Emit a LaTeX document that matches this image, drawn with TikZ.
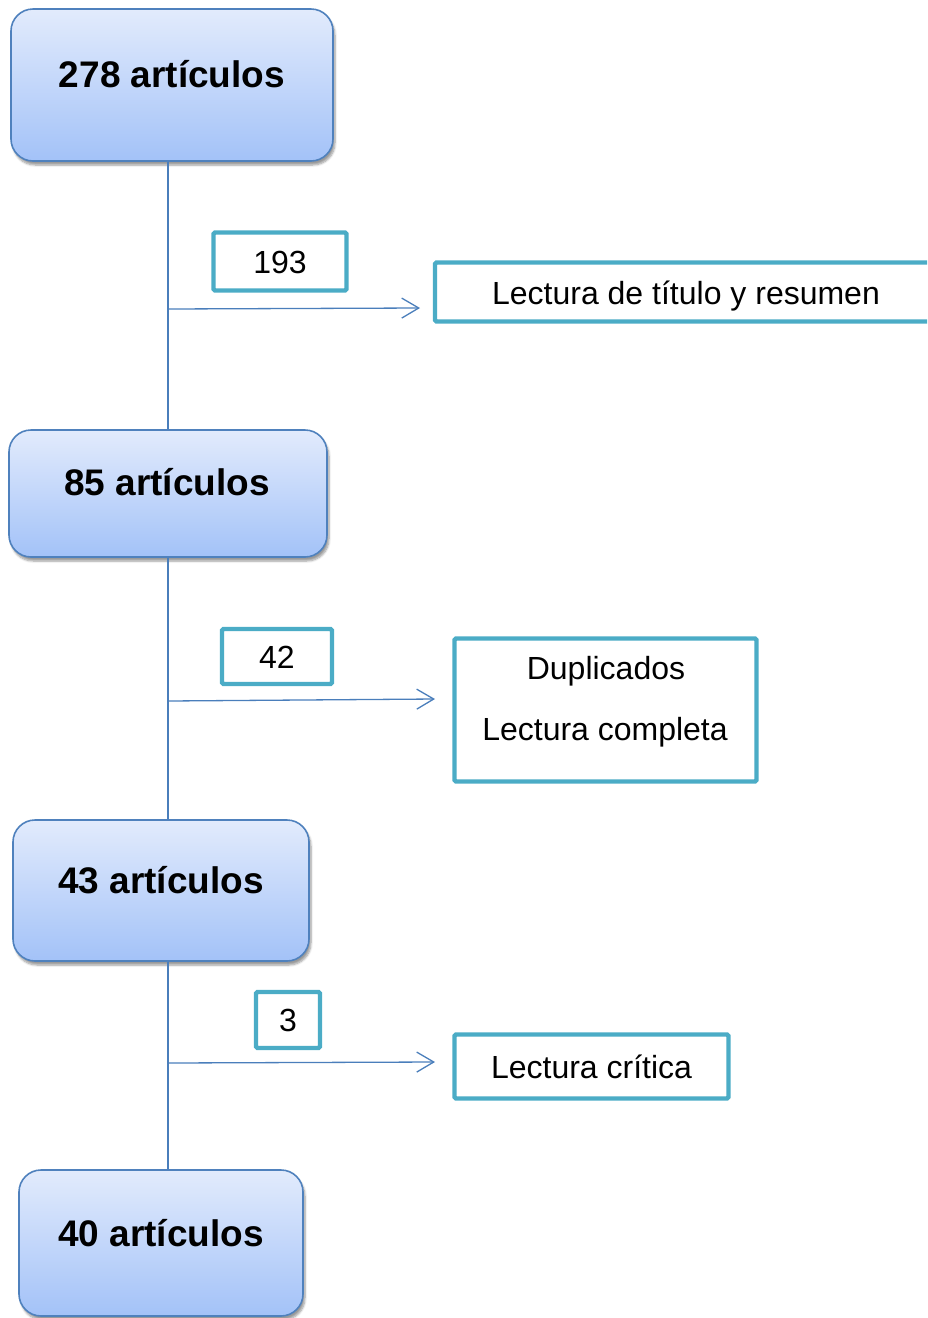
\documentclass[tikz,border=0pt]{standalone}
\usepackage{fontspec}
\setmainfont{Liberation Sans}
\usetikzlibrary{arrows.meta,shadows.blur}
\definecolor{bluebord}{HTML}{4F81BD}
\definecolor{gtop}{HTML}{E2EBFC}
\definecolor{gbot}{HTML}{A3C2F8}
\definecolor{teal}{HTML}{4BACC6}
\definecolor{linec}{HTML}{4A7EBB}
\tikzset{
  bigbox/.style={draw=bluebord, line width=1.6pt, rounded corners=22pt, top color=gtop, bottom color=gbot,
    blur shadow={shadow xshift=2pt, shadow yshift=-4pt, shadow blur steps=6, shadow blur extra rounding=2pt, shadow opacity=40}},
  bigtext/.style={font=\fontsize{37}{44}\selectfont\bfseries, anchor=base, inner sep=0pt},
  tealbox/.style={draw=teal, line width=4.3pt, rounded corners=1.5pt, fill=white, inner sep=0pt,
    font=\fontsize{32}{38}\selectfont, text height=23pt, text depth=0pt},
  plaintext/.style={font=\fontsize{32}{38}\selectfont, anchor=base, inner sep=0pt},
  spine/.style={draw=linec, line width=1.3pt},
  arr/.style={draw=linec, line width=1.3pt, -{Straight Barb[length=17pt,width=20pt,line width=1.3pt]}}
}
\begin{document}
\begin{tikzpicture}[x=1pt,y=-1pt]
\useasboundingbox (0,0) rectangle (927,1318);
\clip (0,0) rectangle (927,1318);
% big boxes
\node[bigbox, minimum width=322pt, minimum height=152pt] (b1) at (172,85) {};
\node[bigbox, minimum width=318pt, minimum height=127pt] (b2) at (168,493.5) {};
\node[bigbox, minimum width=296pt, minimum height=141pt] (b3) at (161,890.5) {};
\node[bigbox, minimum width=284pt, minimum height=146pt] (b4) at (161,1243) {};
\node[bigtext] (t1) at (172,87) {278 artículos};
\node[bigtext] (t2) at (167,495) {85 artículos};
\node[bigtext] (t3) at (161,893) {43 artículos};
\node[bigtext] (t4) at (161,1246) {40 artículos};
% junctions and arrow ends
\coordinate (j1) at (168,309);
\coordinate (j2) at (168,701);
\coordinate (j3) at (168,1063);
\coordinate (e1) at (420,308);
\coordinate (e2) at (435,699);
\coordinate (e3) at (435,1062);
% spine
\draw[spine] (b1.south -| j1) -- (b2.north -| j1);
\draw[spine] (b2.south -| j2) -- (b3.north -| j2);
\draw[spine] (b3.south -| j3) -- (b4.north -| j3);
% arrows
\draw[arr] (j1) -- (e1);
\draw[arr] (j2) -- (e2);
\draw[arr] (j3) -- (e3);
% number boxes
\node[tealbox, minimum width=133pt, minimum height=58pt] (n1) at (280,261.5) {193};
\node[tealbox, minimum width=110pt, minimum height=55pt] (n2) at (277,656.5) {42};
\node[tealbox, minimum width=64pt, minimum height=56pt] (n3) at (288,1020) {3};
% right boxes
\node[tealbox, minimum width=506pt, minimum height=59pt] (r1) at (688,292) {};
\node[plaintext] (r1t) at (686,304) {Lectura de título y resumen};
\node[tealbox, minimum width=302pt, minimum height=143pt] (r2) at (605.5,710) {};
\node[plaintext] (r2a) at (606,679.5) {Duplicados};
\node[plaintext] (r2b) at (605,740.5) {Lectura completa};
\node[tealbox, minimum width=274pt, minimum height=64pt] (r3) at (591.5,1066.5) {Lectura crítica};
\end{tikzpicture}
\end{document}
